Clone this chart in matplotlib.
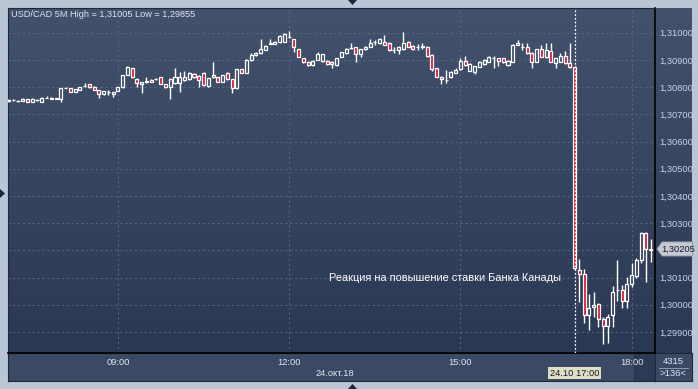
import matplotlib
matplotlib.use("Agg")
import matplotlib.pyplot as plt
import numpy as np
import pandas as pd
from matplotlib.patches import Rectangle, Polygon
from matplotlib.colors import LinearSegmentedColormap
from matplotlib.transforms import blended_transform_factory

plt.rcParams["font.family"] = ["Liberation Sans", "DejaVu Sans"]

# ---- data: USD/CAD 5-minute bars, 24 Oct 2018, 07:05 .. 18:20 ----
start_time = "2018-10-24 07:05"
symbol = "USD/CAD 5M"
open_ = [
    1.30750, 1.30752, 1.30750, 1.30749, 1.30755, 1.30746, 1.30753, 1.30746, 1.30760, 1.30761,
    1.30758, 1.30756, 1.30797, 1.30795, 1.30782, 1.30789, 1.30804, 1.30810, 1.30802, 1.30789,
    1.30773, 1.30781, 1.30773, 1.30786, 1.30799, 1.30844, 1.30869, 1.30831, 1.30811, 1.30820,
    1.30826, 1.30829, 1.30836, 1.30810, 1.30799, 1.30814, 1.30814, 1.30826, 1.30829, 1.30850,
    1.30841, 1.30853, 1.30804, 1.30836, 1.30836, 1.30820, 1.30853, 1.30829, 1.30795, 1.30865,
    1.30853, 1.30898, 1.30918, 1.30924, 1.30937, 1.30960, 1.30960, 1.30965, 1.30967, 1.30983,
    1.30976, 1.30939, 1.30906, 1.30893, 1.30881, 1.30900, 1.30896, 1.30896, 1.30893, 1.30881,
    1.30912, 1.30924, 1.30942, 1.30946, 1.30922, 1.30940, 1.30949, 1.30964, 1.30961, 1.30967,
    1.30963, 1.30936, 1.30936, 1.30939, 1.30967, 1.30951, 1.30948, 1.30949, 1.30949, 1.30918,
    1.30869, 1.30838, 1.30826, 1.30836, 1.30853, 1.30865, 1.30896, 1.30860, 1.30857, 1.30875,
    1.30885, 1.30893, 1.30906, 1.30906, 1.30906, 1.30881, 1.30893, 1.30961, 1.30948, 1.30949,
    1.30927, 1.30893, 1.30939, 1.30910, 1.30934, 1.30887, 1.30893, 1.30914, 1.30887, 1.30875,
    1.30128, 1.30112, 1.29962, 1.29992, 1.30003, 1.29948, 1.29922, 1.29962, 1.30053, 1.30054,
    1.30014, 1.30076, 1.30106, 1.30164, 1.30263, 1.30200,
]
high = [
    1.30756, 1.30757, 1.30753, 1.30759, 1.30757, 1.30759, 1.30757, 1.30763, 1.30768, 1.30762,
    1.30760, 1.30797, 1.30800, 1.30797, 1.30793, 1.30800, 1.30816, 1.30812, 1.30803, 1.30790,
    1.30787, 1.30789, 1.30783, 1.30801, 1.30845, 1.30876, 1.30871, 1.30834, 1.30820, 1.30838,
    1.30828, 1.30833, 1.30838, 1.30811, 1.30832, 1.30869, 1.30857, 1.30860, 1.30857, 1.30853,
    1.30843, 1.30855, 1.30834, 1.30893, 1.30838, 1.30846, 1.30855, 1.30831, 1.30868, 1.30867,
    1.30902, 1.30925, 1.30930, 1.30976, 1.30955, 1.30976, 1.30969, 1.30990, 1.31000, 1.31005,
    1.30978, 1.30941, 1.30908, 1.30895, 1.30898, 1.30930, 1.30922, 1.30898, 1.30895, 1.30908,
    1.30930, 1.30942, 1.30961, 1.30948, 1.30941, 1.30951, 1.30976, 1.30973, 1.30979, 1.30991,
    1.30965, 1.30946, 1.30951, 1.31004, 1.30969, 1.30953, 1.30959, 1.30961, 1.30951, 1.30920,
    1.30871, 1.30840, 1.30863, 1.30859, 1.30869, 1.30906, 1.30914, 1.30887, 1.30879, 1.30895,
    1.30902, 1.30914, 1.30914, 1.30908, 1.30908, 1.30899, 1.30957, 1.30973, 1.30961, 1.30961,
    1.30929, 1.30941, 1.30955, 1.30961, 1.30961, 1.30908, 1.30927, 1.30934, 1.30963, 1.30877,
    1.30168, 1.30131, 1.30039, 1.30047, 1.30006, 1.29955, 1.29966, 1.30069, 1.30164, 1.30072,
    1.30102, 1.30153, 1.30172, 1.30267, 1.30267, 1.30241,
]
low = [
    1.30747, 1.30749, 1.30746, 1.30748, 1.30745, 1.30745, 1.30748, 1.30745, 1.30759, 1.30756,
    1.30757, 1.30746, 1.30795, 1.30781, 1.30781, 1.30788, 1.30802, 1.30798, 1.30788, 1.30759,
    1.30771, 1.30771, 1.30765, 1.30785, 1.30797, 1.30843, 1.30835, 1.30799, 1.30777, 1.30814,
    1.30819, 1.30827, 1.30810, 1.30798, 1.30755, 1.30812, 1.30783, 1.30824, 1.30827, 1.30835,
    1.30799, 1.30805, 1.30802, 1.30835, 1.30819, 1.30818, 1.30827, 1.30780, 1.30793, 1.30852,
    1.30851, 1.30896, 1.30916, 1.30922, 1.30935, 1.30958, 1.30958, 1.30963, 1.30965, 1.30980,
    1.30930, 1.30910, 1.30889, 1.30878, 1.30878, 1.30898, 1.30894, 1.30883, 1.30869, 1.30879,
    1.30910, 1.30922, 1.30940, 1.30891, 1.30910, 1.30938, 1.30947, 1.30955, 1.30959, 1.30953,
    1.30934, 1.30924, 1.30922, 1.30937, 1.30947, 1.30937, 1.30937, 1.30939, 1.30912, 1.30860,
    1.30836, 1.30811, 1.30814, 1.30834, 1.30851, 1.30863, 1.30879, 1.30858, 1.30850, 1.30873,
    1.30883, 1.30891, 1.30869, 1.30877, 1.30889, 1.30879, 1.30891, 1.30953, 1.30936, 1.30922,
    1.30869, 1.30891, 1.30910, 1.30908, 1.30891, 1.30869, 1.30891, 1.30885, 1.30871, 1.30129,
    1.30010, 1.29933, 1.29907, 1.29955, 1.29918, 1.29855, 1.29859, 1.29918, 1.30014, 1.29988,
    1.29988, 1.30065, 1.30098, 1.30153, 1.30084, 1.30157,
]
close = [
    1.30753, 1.30753, 1.30750, 1.30755, 1.30746, 1.30756, 1.30754, 1.30760, 1.30761, 1.30757,
    1.30759, 1.30795, 1.30798, 1.30782, 1.30792, 1.30799, 1.30805, 1.30799, 1.30789, 1.30775,
    1.30786, 1.30781, 1.30782, 1.30799, 1.30843, 1.30873, 1.30836, 1.30814, 1.30819, 1.30821,
    1.30820, 1.30830, 1.30811, 1.30799, 1.30830, 1.30836, 1.30836, 1.30836, 1.30853, 1.30836,
    1.30826, 1.30808, 1.30832, 1.30844, 1.30820, 1.30844, 1.30829, 1.30795, 1.30866, 1.30853,
    1.30900, 1.30918, 1.30927, 1.30939, 1.30951, 1.30961, 1.30967, 1.30988, 1.30994, 1.30984,
    1.30949, 1.30912, 1.30891, 1.30881, 1.30896, 1.30920, 1.30920, 1.30885, 1.30885, 1.30906,
    1.30928, 1.30940, 1.30943, 1.30922, 1.30939, 1.30949, 1.30963, 1.30965, 1.30976, 1.30955,
    1.30936, 1.30937, 1.30949, 1.30963, 1.30949, 1.30939, 1.30949, 1.30949, 1.30914, 1.30865,
    1.30838, 1.30829, 1.30827, 1.30857, 1.30863, 1.30896, 1.30881, 1.30885, 1.30877, 1.30893,
    1.30900, 1.30909, 1.30907, 1.30897, 1.30891, 1.30897, 1.30955, 1.30955, 1.30949, 1.30924,
    1.30893, 1.30939, 1.30912, 1.30936, 1.30893, 1.30906, 1.30914, 1.30890, 1.30873, 1.30134,
    1.30112, 1.29962, 1.29988, 1.29999, 1.29948, 1.29922, 1.29955, 1.30047, 1.30054, 1.30014,
    1.30076, 1.30109, 1.30164, 1.30263, 1.30204, 1.30205,
]
tick_labels = ["09:00", "12:00", "15:00", "18:00"]
price_ticks = [1.299, 1.300, 1.301, 1.302, 1.303, 1.304, 1.305, 1.306, 1.307, 1.308, 1.309, 1.310]
event_time = "17:00"
event_label = "24.10 17:00"
date_label = "24.окт.18"
event_text = "Реакция на повышение ставки Банка Канады"
corner_top = "4315"

W, H = 698, 389
FRAME = "#bac6d6"
TXT = "#dfe5ee"
PRICE_TXT = "#c6d2e6"
RED = "#e4112c"
GRID = "#5a6986"


def fbox(x0, y0, x1, y1):
    """pixel box (top-left origin) -> figure fraction rect"""
    return [x0 / W, 1 - y1 / H, (x1 - x0) / W, (y1 - y0) / H]


def fmt(v):
    return f"{v:.5f}".replace(".", ",")


times = pd.date_range(start_time, periods=len(close), freq="5min")
hhmm = list(times.strftime("%H:%M"))
xt = [hhmm.index(t) for t in tick_labels]
ev = hhmm.index(event_time)
idx = np.arange(len(close))
last = close[-1]

grad_cmap = LinearSegmentedColormap.from_list("bg", ["#2b3853", "#42516c"])
grad = np.linspace(0, 1, 256).reshape(-1, 1)

fig = plt.figure(figsize=(W / 100, H / 100), dpi=100, facecolor=FRAME)

# side panels
rax = fig.add_axes(fbox(655, 8, 692, 353))
rax.imshow(grad, cmap=grad_cmap, origin="lower", aspect="auto", extent=[0, 1, 0, 1])
rax.set_axis_off()
tax = fig.add_axes(fbox(8, 353, 655, 381), facecolor="#3b4964")
tax.set_xticks([]); tax.set_yticks([])
for s in tax.spines.values():
    s.set_color("#1e2839")
cax = fig.add_axes(fbox(655, 353, 692, 381), facecolor="#3b4964")
cax.set_xticks([]); cax.set_yticks([])
cax.set_xlim(0, 1); cax.set_ylim(0, 1)
for s in cax.spines.values():
    s.set_color("#1e2839")
cax.text(0.5, 0.70, corner_top, transform=cax.transAxes, color=TXT, fontsize=6.8,
         ha="center", va="center")
cax.text(0.5, 0.25, f">{len(close)}<", transform=cax.transAxes, color=TXT, fontsize=6.8,
         ha="center", va="center")
cax.plot([0.12, 0.88], [0.48, 0.48], color="#9aa6b8", lw=0.6, transform=cax.transAxes)

# main chart
ax = fig.add_axes(fbox(8, 8, 655, 353))
ax.imshow(grad, cmap=grad_cmap, origin="lower", aspect="auto",
          extent=[0, 1, 0, 1], transform=ax.transAxes, zorder=0)
ax.set_xlim(-0.1, 135.9)
ax.set_ylim(1.298226, 1.310908)

ax.set_yticks(price_ticks)
# the tick hidden under the live price marker gets no label
ax.set_yticklabels(["" if abs(v - last) < 0.0004 else fmt(v) for v in price_ticks])
ax.yaxis.tick_right()
ax.tick_params(axis="y", length=0, pad=3, labelsize=6.7, labelcolor=PRICE_TXT)
ax.set_xticks(xt)
ax.set_xticklabels(tick_labels)
ax.tick_params(axis="x", length=0, pad=3.5, labelsize=6.7, labelcolor=TXT)
ax.grid(True, color=GRID, ls=(0, (2, 3)), lw=0.7, zorder=1)
for side in ["left", "top"]:
    ax.spines[side].set_color("#1e2839")
for side in ["right", "bottom"]:
    ax.spines[side].set_color("black")
    ax.spines[side].set_linewidth(1.2)

# candles
bw = 0.64
for i, o, h, l, c in zip(idx, open_, high, low, close):
    top, bot = max(o, c), min(o, c)
    ax.plot([i, i], [top, h], color="white", lw=1.0, zorder=3, solid_capstyle="butt")
    ax.plot([i, i], [l, bot], color="white", lw=1.0, zorder=3, solid_capstyle="butt")
    hgt = max(top - bot, 0.000004)
    fc = RED if c < o else "none"
    ax.add_patch(Rectangle((i - bw / 2, bot), bw, hgt, facecolor=fc,
                           edgecolor="white", lw=0.9, zorder=4))

ax.axvline(ev, color="white", ls=(0, (1.5, 1.5)), lw=0.9, zorder=5)

ax.text(0.004, 0.982, f"{symbol} High = {fmt(max(high))} Low = {fmt(min(low))}",
        transform=ax.transAxes, color=TXT, fontsize=6.6, ha="left", va="center")
ax.text(ev - 2.8, 1.30100, event_text, color="white", fontsize=7.9, ha="right",
        va="center", zorder=6)

# date and event stamp in the time strip
ax_t = blended_transform_factory(ax.transData, tax.transAxes)
tax.text(0.505, 0.26, date_label, transform=tax.transAxes, color=TXT, fontsize=6.7,
         ha="center", va="center")
tax.text(ev, 0.28, event_label, transform=ax_t, color="#121a2a", fontsize=6.7,
         ha="center", va="center",
         bbox=dict(boxstyle="square,pad=0.18", fc="#dedec4", ec="none"))
tax.add_patch(Rectangle((xt[-1] + 0.5, 0.0), 5.0, 1.0, transform=ax_t,
                        facecolor="#2d3a54", edgecolor="#26324a", lw=0.6, zorder=0))

# current price marker
pt = blended_transform_factory(ax.transAxes, ax.transData)
dy = 0.00026
ax.add_patch(Polygon([[1.003, last], [1.011, last + dy], [1.058, last + dy],
                      [1.058, last - dy], [1.011, last - dy]], closed=True,
                     transform=pt, clip_on=False, facecolor="#c5cad3",
                     edgecolor="#8d96a5", lw=0.6, zorder=6))
ax.text(1.035, last, fmt(last), transform=pt, color="#151c2b", fontsize=6.7,
        ha="center", va="center", zorder=7, clip_on=False)

# frame arrows
for pts in ([[348, 0], [357, 0], [352.5, 5]], [[0, 189], [0, 198], [5, 193.5]],
            [[348, 389], [357, 389], [352.5, 384]]):
    fig.add_artist(Polygon([[x / W, 1 - y / H] for x, y in pts], closed=True,
                           transform=fig.transFigure, facecolor="#1c2639",
                           edgecolor="none"))

fig.savefig("out.png", dpi=100, facecolor=FRAME)
